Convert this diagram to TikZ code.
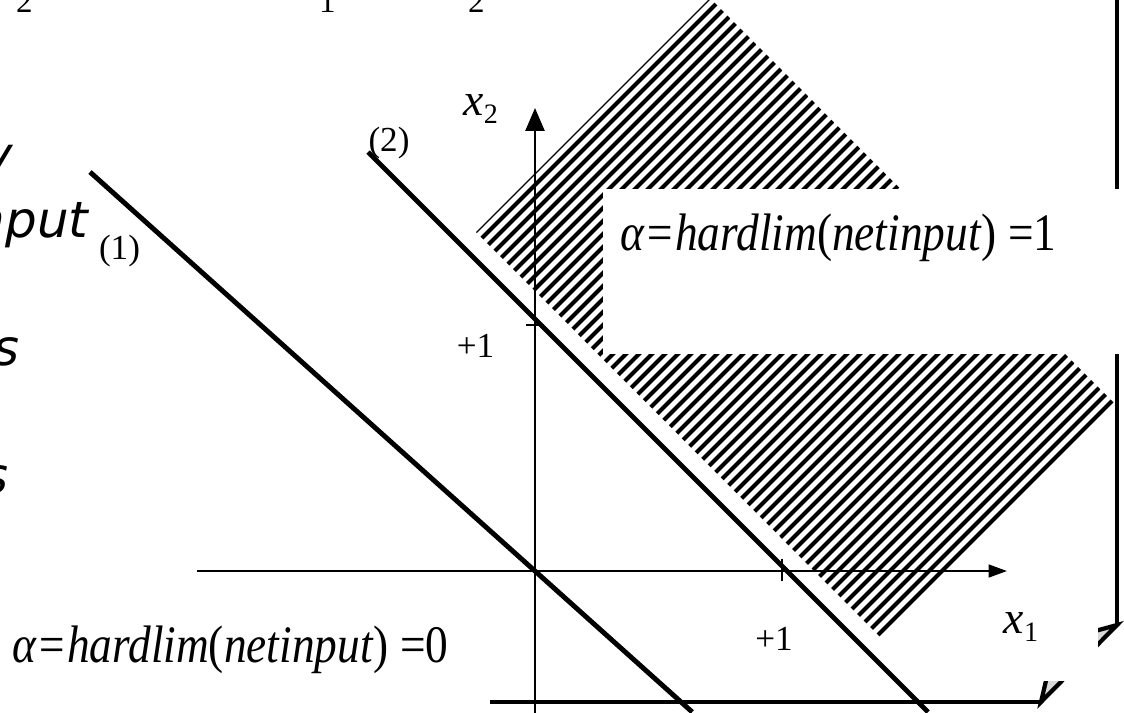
\documentclass[tikz,border=0pt]{standalone}
\usepackage{fontspec}
\setmainfont{Liberation Serif}
\newfontfamily\slidefont{DejaVu Sans}
\newfontfamily\labelfont[FakeStretch=0.86]{Liberation Serif}
\usetikzlibrary{arrows.meta}
\newcommand{\lowsub}[1]{\raisebox{-2.5pt}{\fontsize{8}{9}\selectfont #1}}
\tikzset{
  bound/.style={line width=1.4pt},
  axisline/.style={line width=0.65pt},
  frameline/.style={line width=1.2pt},
  hatchline/.style={line width=1.15pt},
  smalllbl/.style={font=\fontsize{10}{12}\selectfont, inner sep=0pt},
  biglbl/.style={font=\labelfont\fontsize{15}{18}\selectfont, inner sep=0pt, anchor=base west},
  axislbl/.style={font=\fontsize{13}{15}\selectfont, inner sep=0pt, anchor=base west},
  cuttext/.style={font=\slidefont\itshape\fontsize{14.2}{17}\selectfont, inner sep=0pt, anchor=base east},
}

\begin{document}
\begin{tikzpicture}
\useasboundingbox (-5.35,-1.41) rectangle (5.89,5.71);
\clip (-5.35,-1.41) rectangle (5.89,5.71);

% hatched region x1+x2>1
\begin{scope}
  \clip (1.75,5.73) -- (5.81,1.66) -- (3.47,-0.68) -- (-0.59,3.39) -- cycle;
  \foreach \k in {0,...,64}
    \draw[hatchline] (-1,{-5.2+0.13*\k}) -- (6,{1.8+0.13*\k});
\end{scope}

% slide frame behind the graph
\coordinate (fa) at (5.82,-0.54);
\coordinate (fb) at (5.06,-1.31);
\coordinate (fp) at (5.20,-0.71);
\draw[frameline] (5.82,5.8) -- (fa);
\draw[frameline] (fb) -- (-0.45,-1.31);
\filldraw[frameline, fill=gray!30] (fa) -- (fp) -- (fb) -- cycle;
\fill[white] (4.95,-0.25) rectangle (5.63,-1.10);

\node[fill=white, anchor=north west, minimum width=5.4cm, minimum height=1.65cm, inner sep=0pt] (onebox) at (0.67,3.83) {};
\node[biglbl] (onelbl) at (0.85,3.21) {\textit{α=hardlim}(\textit{netinput}) =1};

% axes
\coordinate (O) at (0,0);
\draw[axisline, -{Triangle[length=5.2pt, width=3.6pt]}] (-3.38,0) -- (4.72,0);
\draw[axisline, -{Triangle[length=6.5pt, width=5.4pt]}] (0,-1.5) -- (0,4.63);
\draw[axisline] (-0.09,2.46) -- (0.09,2.46);
\draw[axisline] (2.47,-0.1) -- (2.47,0.12);

% decision boundaries
\draw[bound] (-4.45,3.99) -- (1.572,-1.41);
\draw[bound] (-1.67,4.19) -- (3.93,-1.41);

\node[smalllbl] (bone) at (-4.155,3.20) {(1)};
\node[smalllbl] (btwo) at (-1.46,4.28) {(2)};
\node[smalllbl, anchor=base east] (yone) at (-0.40,2.14) {+1};
\node[smalllbl, anchor=base] (xone) at (2.39,-0.79) {+1};
\node[axislbl] (xtwolbl) at (-0.72,4.56) {\textit{x}\lowsub{2}};
\node[axislbl] (xonelbl) at (4.68,-0.62) {\textit{x}\lowsub{1}};

\node[biglbl] (zerolbl) at (-5.23,-0.91) {\textit{α=hardlim}(\textit{netinput}) =0};

% pieces of the slide text cut by the picture edge
\node[smalllbl, anchor=base, font=\fontsize{9.4}{11}\selectfont] (suba) at (-5.105,5.59) {2};
\node[smalllbl, anchor=base, font=\fontsize{9.4}{11}\selectfont] (subb) at (-2.075,5.59) {1};
\node[smalllbl, anchor=base, font=\fontsize{9.4}{11}\selectfont] (subc) at (-0.585,5.59) {2};
\node[cuttext] (cuty) at (-5.21,3.99) {y};
\node[cuttext] (cutnput) at (-4.46,3.34) {nput};
\node[cuttext] (cuts) at (-5.15,2.06) {s};
\node[cuttext] (cutss) at (-5.26,0.78) {s};
\end{tikzpicture}
\end{document}
